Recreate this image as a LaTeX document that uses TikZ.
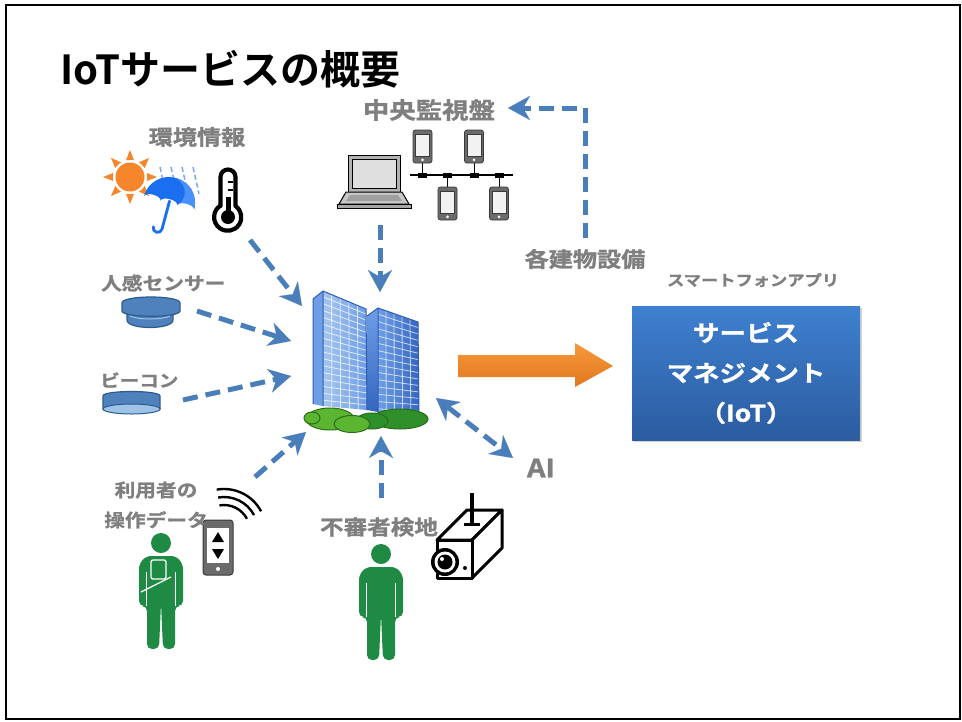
\documentclass[tikz,border=0pt]{standalone}
\usepackage{fontspec}
\setmainfont{Noto Sans CJK JP}[BoldFont=* Bold]
\newfontfamily\lblfont{Noto Sans CJK JP}[BoldFont=* Bold, FakeStretch=1.15, BoldFeatures={FakeBold=1.2}]
\usetikzlibrary{arrows.meta,calc,shadows}

\definecolor{labelgray}{HTML}{7F7F7F}
\definecolor{flowblue}{HTML}{4A7EBB}
\definecolor{boxtop}{HTML}{3E80D0}
\definecolor{boxbot}{HTML}{2B5C9F}
\definecolor{orangetop}{HTML}{F8983C}
\definecolor{orangebot}{HTML}{E0781C}
\definecolor{persongreen}{HTML}{1F8A44}
\definecolor{sunorange}{HTML}{F5862B}
\definecolor{umbrellablue}{HTML}{1A6FF0}
\definecolor{umbrellalight}{HTML}{4A90FF}
\definecolor{sensorblue}{HTML}{4F81BD}
\definecolor{sensoredge}{HTML}{2F5A8C}
\definecolor{beaconlight}{HTML}{9DC3E6}
\definecolor{phonegray}{HTML}{6B6B6B}
\definecolor{phoneedge}{HTML}{3A3A3A}
\definecolor{towerlight}{HTML}{A5C6F0}
\definecolor{towermid}{HTML}{6E9EE6}
\definecolor{towerdark}{HTML}{3566C0}
\definecolor{toweredge}{HTML}{2F5DB5}
\definecolor{bushlight}{HTML}{5CB531}
\definecolor{bushdark}{HTML}{2F8F2A}
\definecolor{bushedge}{HTML}{2A6E17}

\tikzset{
  lbl/.style={text=labelgray, inner sep=0pt, font=\lblfont\bfseries},
  flow/.style={draw=flowblue, line width=5pt, dash pattern=on 15pt off 8pt,
    -{Stealth[length=22pt,width=24pt,inset=7pt,line width=0.1pt]}},
  flowboth/.style={flow,
    {Stealth[length=22pt,width=24pt,inset=7pt,line width=0.1pt]}-{Stealth[length=22pt,width=24pt,inset=7pt,line width=0.1pt]}},
  servicebox/.style={rectangle, minimum width=228pt, minimum height=134pt,
    top color=boxtop, bottom color=boxbot, text=white, align=center,
    drop shadow={shadow xshift=2pt, shadow yshift=-2pt, opacity=0.35},
    font=\lblfont\bfseries\fontsize{23}{40}\selectfont},
  pics/handset/.style={code={
    \filldraw[fill=phonegray, draw=phoneedge, line width=0.8pt, rounded corners=2.5pt]
      (-9.5,-16.5) rectangle (9.5,16.5);
    \filldraw[fill=white!95!black, draw=phoneedge, line width=0.5pt] (-7,-12) rectangle (7,10);
    \fill[white] (0,13.3) circle (1.5);
  }},
  pics/person/.style={code={
    \fill[persongreen] (0,-13) circle (10);
    \fill[persongreen, rounded corners=5pt] (-22,50) -- (-22,8) -- (-15,0) -- (15,0)
      -- (22,8) -- (22,50) -- (14,50) -- (14,93) -- (2,93) -- (0,47) -- (-2,93)
      -- (-14,93) -- (-14,50) -- cycle;
    \draw[white, line width=1.2pt] (-14.5,16) -- (-14.5,50) (14.5,16) -- (14.5,50);
  }}
}

\begin{document}
\begin{tikzpicture}[x=1pt, y=-1pt]
\useasboundingbox (0,0) rectangle (962,721);
\fill[white] (0,0) rectangle (962,721);
\draw[black, line width=2pt] (5.5,4.5) rectangle (959.5,718.5);

% heading
\node[anchor=base west, inner sep=0pt, font=\bfseries\fontsize{40}{48}\selectfont] (title) at (60,84) {IoTサービスの概要};

% ---------- environment: sun, umbrella, thermometer ----------
\begin{scope}[shift={(130,177)}]
  \foreach \a in {0,45,...,315}
    \fill[sunorange] (\a-14:17) -- (\a:27) -- (\a+14:17) -- cycle;
  \fill[white] (0,0) circle (17);
  \fill[sunorange] (0,0) circle (14.5);
\end{scope}
\foreach \x in {160,171,182,193}
  \draw[umbrellablue!60, line width=1.5pt, dash pattern=on 5pt off 3pt] (\x,167) -- (\x+6,194);
\begin{scope}[shift={(169,203)}, rotate=-15]
  \fill[umbrellablue] (-26,0) arc[start angle=180, end angle=360, radius=26]
    arc[start angle=0, end angle=-180, x radius=8.667, y radius=4]
    arc[start angle=0, end angle=-180, x radius=8.667, y radius=4]
    arc[start angle=0, end angle=-180, x radius=8.667, y radius=4] -- cycle;
  \fill[umbrellalight] (0,-26) .. controls (13,-22) and (17,-10) .. (8.667,0)
    arc[start angle=-180, end angle=0, x radius=8.667, y radius=4]
    .. controls (26,-15) and (15,-26) .. (0,-26) -- cycle;
  \draw[umbrellablue, line width=2.8pt, line cap=round] (0,-2) -- (0,27)
    arc[start angle=0, end angle=180, radius=4.5];
\end{scope}
\draw[black, line width=4.2pt, line join=round] (220.5,206) -- (220.5,177)
  arc[start angle=180, end angle=360, radius=7.5] -- (235.5,206)
  arc[start angle=-55, end angle=235, radius=13.6] -- cycle;
\fill[black] (228,217) circle (7);
\fill[black] (225.5,197) rectangle (230.5,215);
\draw[black, line width=1.6pt] (228,182) -- (233,182) (228,190) -- (233,190);
\coordinate (env) at (250,240);
\node[lbl, font=\lblfont\bfseries\fontsize{21}{24}\selectfont] (envlabel) at (197,137) {環境情報};

% ---------- motion sensor ----------
\filldraw[fill=sensorblue, draw=sensoredge, line width=1.2pt] (127,309) -- (127,320)
  .. controls (127,330) and (173,330) .. (173,320) -- (173,309) -- cycle;
\filldraw[fill=sensorblue, draw=sensoredge, line width=1.2pt] (122,303)
  .. controls (122,295) and (180,295) .. (180,303) -- (180,311)
  .. controls (180,318) and (122,318) .. (122,311) -- cycle;
\draw[beaconlight, line width=1pt] (130,316) .. controls (138,320) and (162,320) .. (170,316);
\coordinate (pir) at (197,311);
\node[lbl, anchor=west, font=\lblfont\bfseries\fontsize{18}{22}\selectfont] (pirlabel) at (101,283) {人感センサー};

% ---------- beacon ----------
\filldraw[fill=sensorblue, draw=sensoredge, line width=1.2pt] (103,396)
  .. controls (103,390) and (160,390) .. (160,396) -- (160,409) -- (103,409) -- cycle;
\filldraw[fill=beaconlight, draw=sensoredge, line width=1pt] (131.5,409) ellipse (28.5 and 5);
\coordinate (beacon) at (183,400);
\node[lbl, anchor=west, font=\lblfont\bfseries\fontsize{17}{22}\selectfont] (beaconlabel) at (100,380) {ビーコン};

% ---------- user with handset ----------
\pic at (161,556) {person};
\draw[white, line width=1.3pt, rounded corners=2pt] (151,560) rectangle (166,579);
\draw[white, line width=1.3pt] (141,592) -- (171,577);
\filldraw[fill=phonegray, draw=phoneedge, line width=1pt, rounded corners=3pt] (203,520) rectangle (233,575);
\fill[white] (207,528) rectangle (229,563);
\fill[white] (218,569) circle (2);
\fill[black] (218,532) -- (224,542) -- (212,542) -- cycle;
\fill[black] (218,559) -- (224,549) -- (212,549) -- cycle;
\foreach \r in {26,34,42}
  \draw[black, line width=2.4pt] ([shift={(-100:\r)}]224,531) arc[start angle=-100, end angle=-28, radius=\r];
\coordinate (user) at (255,477);
\node[lbl, align=center, font=\lblfont\bfseries\fontsize{18}{30}\selectfont] (userlabel) at (156,505) {利用者の\\操作データ};

% ---------- intruder detection ----------
\pic at (381,567) {person};
\begin{scope}[line width=3pt, line join=round]
  \filldraw[fill=white, draw=black] (437,540) -- (467,510) -- (502,510) -- (472,540) -- cycle;
  \filldraw[fill=white, draw=black] (472,540) -- (502,510) -- (502,548) -- (472,578) -- cycle;
  \filldraw[fill=white, draw=black] (437,540) rectangle (472,578);
\end{scope}
\draw[black, line width=4pt] (472,493) -- (472,523);
\draw[black, line width=3pt] (464,524) -- (480,524);
\fill[black] (445,562) circle (14);
\fill[white] (445,562) circle (10.5);
\fill[black] (445,562) circle (7.5);
\fill[white] (442,559) circle (2);
\fill[black] (465,568) circle (2);
\coordinate (intruder) at (381,498);
\node[lbl, font=\lblfont\bfseries\fontsize{20.5}{24}\selectfont] (intruderlabel) at (379,527) {不審者検地};

% ---------- central monitoring ----------
\filldraw[fill=gray!60, draw=black, line width=1pt] (348,155) rectangle (400,192);
\filldraw[fill=gray!25, draw=black, line width=0.6pt] (352,159) rectangle (396,188);
\filldraw[fill=gray!45, draw=black, line width=1pt] (346,192) -- (402,192) -- (409,204) -- (339,204) -- cycle;
\fill[gray!75] (350,195) -- (398,195) -- (402,201) -- (346,201) -- cycle;
\filldraw[fill=gray!70, draw=black, line width=1pt] (337,204) rectangle (411,208);
\draw[black, line width=1.5pt] (410,175) -- (513,175);
\draw[black, line width=1pt] (422,163) -- (422,175) (474,163) -- (474,175)
  (447,175) -- (447,187) (499,175) -- (499,187);
\foreach \x in {422,447,474,499}
  \fill[black] (\x-4.5,172.5) rectangle (\x+4.5,177.5);
\pic at (422.5,146.5) {handset};
\pic at (474,146.5) {handset};
\pic at (447.5,203.5) {handset};
\pic at (499,203.5) {handset};
\coordinate (monitor) at (380,225);
\node[lbl, font=\lblfont\bfseries\fontsize{23}{26}\selectfont] (monitorlabel) at (429,110) {中央監視盤};
\coordinate (monitorin) at (508,108);

% ---------- facilities ----------
\node[lbl, font=\lblfont\bfseries\fontsize{21}{24}\selectfont] (facilities) at (585,259) {各建物設備};
\coordinate (facout) at (585,238);

% ---------- AI ----------
\node[lbl, font=\lblfont\bfseries\fontsize{25}{28}\selectfont] (ai) at (541,468) {AI};
\coordinate (aiend) at (513,458);

% ---------- buildings ----------
\shade[top color=towermid, bottom color=towerdark] (367,316) -- (378,308) -- (378,412) -- (367,410) -- cycle;
\shade[left color=towermid, right color=towerdark] (378,308) -- (418,322) -- (419,414) -- (378,412) -- cycle;
\foreach \t in {0.06,0.13,...,0.98}
  \draw[white, opacity=0.7, line width=0.8pt] ($(378,308)!\t!(378,412)$) -- ($(418,322)!\t!(419,414)$);
\foreach \s in {0.2,0.4,0.6,0.8}
  \draw[white, opacity=0.7, line width=0.8pt] ($(378,308)!\s!(418,322)$) -- ($(378,412)!\s!(419,414)$);
\draw[toweredge, line width=1pt] (367,316) -- (378,308) -- (418,322) -- (419,414) (378,308) -- (378,412);
\fill[towermid] (313,299) -- (323,291) -- (323,406) -- (313,404) -- cycle;
\shade[left color=towerlight, right color=towermid] (323,291) -- (366,309) -- (367,410) -- (323,406) -- cycle;
\foreach \t in {0.05,0.11,...,0.98}
  \draw[white, opacity=0.75, line width=0.8pt] ($(323,291)!\t!(323,406)$) -- ($(366,309)!\t!(367,410)$);
\foreach \s in {0.2,0.4,0.6,0.8}
  \draw[white, opacity=0.75, line width=0.8pt] ($(323,291)!\s!(366,309)$) -- ($(323,406)!\s!(367,410)$);
\draw[toweredge, line width=1pt] (313,299) -- (323,291) -- (366,309) -- (367,410) (323,291) -- (323,406) (313,299) -- (313,404);
\begin{scope}[draw=bushedge, line width=1pt]
  \filldraw[fill=bushdark] (400,419) ellipse (28 and 10);
  \filldraw[fill=bushdark] (372,421) ellipse (16 and 8);
  \filldraw[fill=bushlight] (330,419) ellipse (24 and 11);
  \filldraw[fill=bushlight] (352,424) ellipse (18 and 8.5);
  \filldraw[fill=bushlight] (312,418) ellipse (8 and 6);
\end{scope}
\coordinate (bldgnw) at (302,306);
\coordinate (bldgw1) at (291,341);
\coordinate (bldgw2) at (291,376);
\coordinate (bldgsw) at (306,432);
\coordinate (bldgs) at (381,436);
\coordinate (bldgn) at (380,292);
\coordinate (bldgse) at (436,398);

% ---------- service management ----------
\node[servicebox] (svc) at (746,373) {サービス\\マネジメント\\（IoT）};
\node[lbl, font=\lblfont\bfseries\fontsize{15}{18}\selectfont] (applabel) at (753,280) {スマートフォンアプリ};
\coordinate (bigtail) at (458,366);
\coordinate (bigtip) at (613,366);
\shade[top color=orangetop, bottom color=orangebot]
  ($(bigtail)+(0,-11)$) -- ($(bigtip)+(-38,-11)$) -- ($(bigtip)+(-38,-23)$) -- (bigtip)
  -- ($(bigtip)+(-38,21)$) -- ($(bigtip)+(-38,11)$) -- ($(bigtail)+(0,11)$) -- cycle;

% ---------- data flows ----------
\draw[flow] (env) -- (bldgnw);
\draw[flow] (pir) -- (bldgw1);
\draw[flow] (beacon) -- (bldgw2);
\draw[flow] (user) -- (bldgsw);
\draw[flow] (intruder) -- (bldgs);
\draw[flow] (monitor) -- (bldgn);
\draw[flowboth] (bldgse) -- (aiend);
\draw[flow] (facout) |- (monitorin);
\end{tikzpicture}
\end{document}
